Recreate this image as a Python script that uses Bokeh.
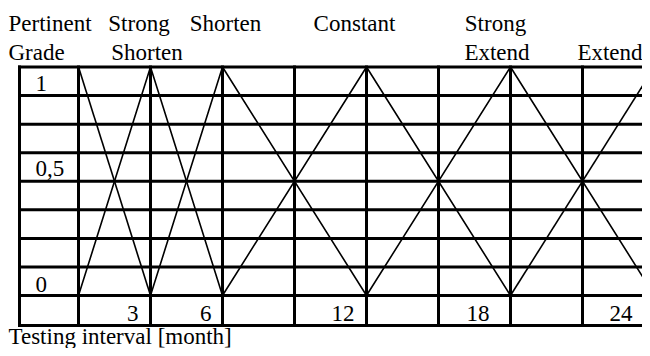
from bokeh.plotting import figure
from bokeh.models import Range1d
from bokeh.core.properties import value
from bokeh.embed import file_html
from bokeh.resources import INLINE

# ---------------- data ----------------
tick_months = [3, 6, 12, 18, 24]
tick_labels = ["3", "6", "12", "18", "24"]
column_months = [0, 3, 6, 9, 12, 15, 18, 21]
grade_levels = [1.0, 0.875, 0.75, 0.625, 0.5, 0.375, 0.25, 0.125, 0.0]
grade_label_values = [1.0, 0.5, 0.0]
grade_labels = ["1", "0,5", "0"]
# membership functions (testing interval in months -> pertinent grade)
mf_months = [[0, 3], [0, 3, 6], [3, 6, 12], [6, 12, 18], [12, 18, 24], [18, 24]]
mf_grades = [[1, 0], [0, 1, 0], [0, 1, 0], [0, 1, 0], [0, 1, 0], [0, 1]]
# header words and the peak (month) they sit above
header_words = ["Strong", "Shorten", "Shorten", "Constant", "Strong", "Extend", "Extend"]
header_anchor = [3, 3, 6, 12, 18, 18, 24]
header_row = [0, 1, 0, 0, 0, 1, 1]
x_title = "Testing interval [month]"
y_title = ["Pertinent", "Grade"]

# ---------------- layout (style) ----------------
W, H = 642, 348
PXM = 24.0          # pixels per month
PXG = 228.5         # pixels per grade unit
ORIGIN_X = 78.0     # frame x of month 0
TOP_Y = 66.5        # frame y of grade 1
x_start = -ORIGIN_X / PXM
x_end = x_start + W / PXM
y_top = 1 + TOP_Y / PXG
y_bot = y_top - H / PXG
left_border = -59.0 / PXM
bottom_border = -30.0 / PXG
BL = -6.0           # baseline correction

FONT = value("Liberation Serif")
FS = value("23px")

p = figure(width=W, height=H, output_backend="svg", toolbar_location=None,
           x_range=Range1d(x_start, x_end), y_range=Range1d(y_bot, y_top),
           min_border=0, x_axis_location=None, y_axis_location=None)
p.grid.visible = False
p.outline_line_color = None
p.background_fill_color = "white"
p.border_fill_color = "white"

# table grid
hy = grade_levels + [bottom_border]
p.segment(x0=[left_border] * len(hy), x1=[x_end + 1] * len(hy), y0=hy, y1=hy,
          line_color="black", line_width=3, line_cap="square")
vx = [left_border] + column_months
p.segment(x0=vx, x1=vx, y0=[bottom_border] * len(vx), y1=[1.0] * len(vx),
          line_color="black", line_width=3, line_cap="square")

# membership functions
p.multi_line(xs=mf_months, ys=mf_grades, line_color="black", line_width=1.6)

# grade labels in the first column
p.text(x=[left_border] * 3, y=grade_label_values, text=grade_labels,
       x_offset=[16, 16, 16], y_offset=[22.5 + BL, -6.5 + BL, -5 + BL],
       text_font=FONT, text_font_size=FS, text_align="left", text_baseline="alphabetic",
       text_color="black")

# month labels in the bottom row
p.text(x=tick_months, y=[0] * len(tick_months), text=tick_labels,
       x_offset=[-12, -11, -12, -21, -22], y_offset=[24 + BL] * len(tick_months),
       text_font=FONT, text_font_size=FS, text_align="right", text_baseline="alphabetic",
       text_color="black")

# header
row_off = [-37.5 + BL, -8.5 + BL]
hdx = [-11.5, -3.5, 3, -12, -15, -13.5, -44.5]
p.text(x=header_anchor, y=[1.0] * len(header_words), text=header_words,
       x_offset=hdx, y_offset=[row_off[r] for r in header_row],
       text_font=FONT, text_font_size=FS, text_align="center", text_baseline="alphabetic",
       text_color="black")
p.text(x=[left_border] * 2, y=[1.0, 1.0], text=y_title,
       x_offset=[-11, -11], y_offset=row_off,
       text_font=FONT, text_font_size=FS, text_align="left", text_baseline="alphabetic",
       text_color="black")

# x title
p.text(x=[left_border], y=[bottom_border], text=[x_title],
       x_offset=[-11], y_offset=[17 + BL],
       text_font=FONT, text_font_size=FS, text_align="left", text_baseline="alphabetic",
       text_color="black")

open("out.html", "w").write(file_html(p, INLINE))
